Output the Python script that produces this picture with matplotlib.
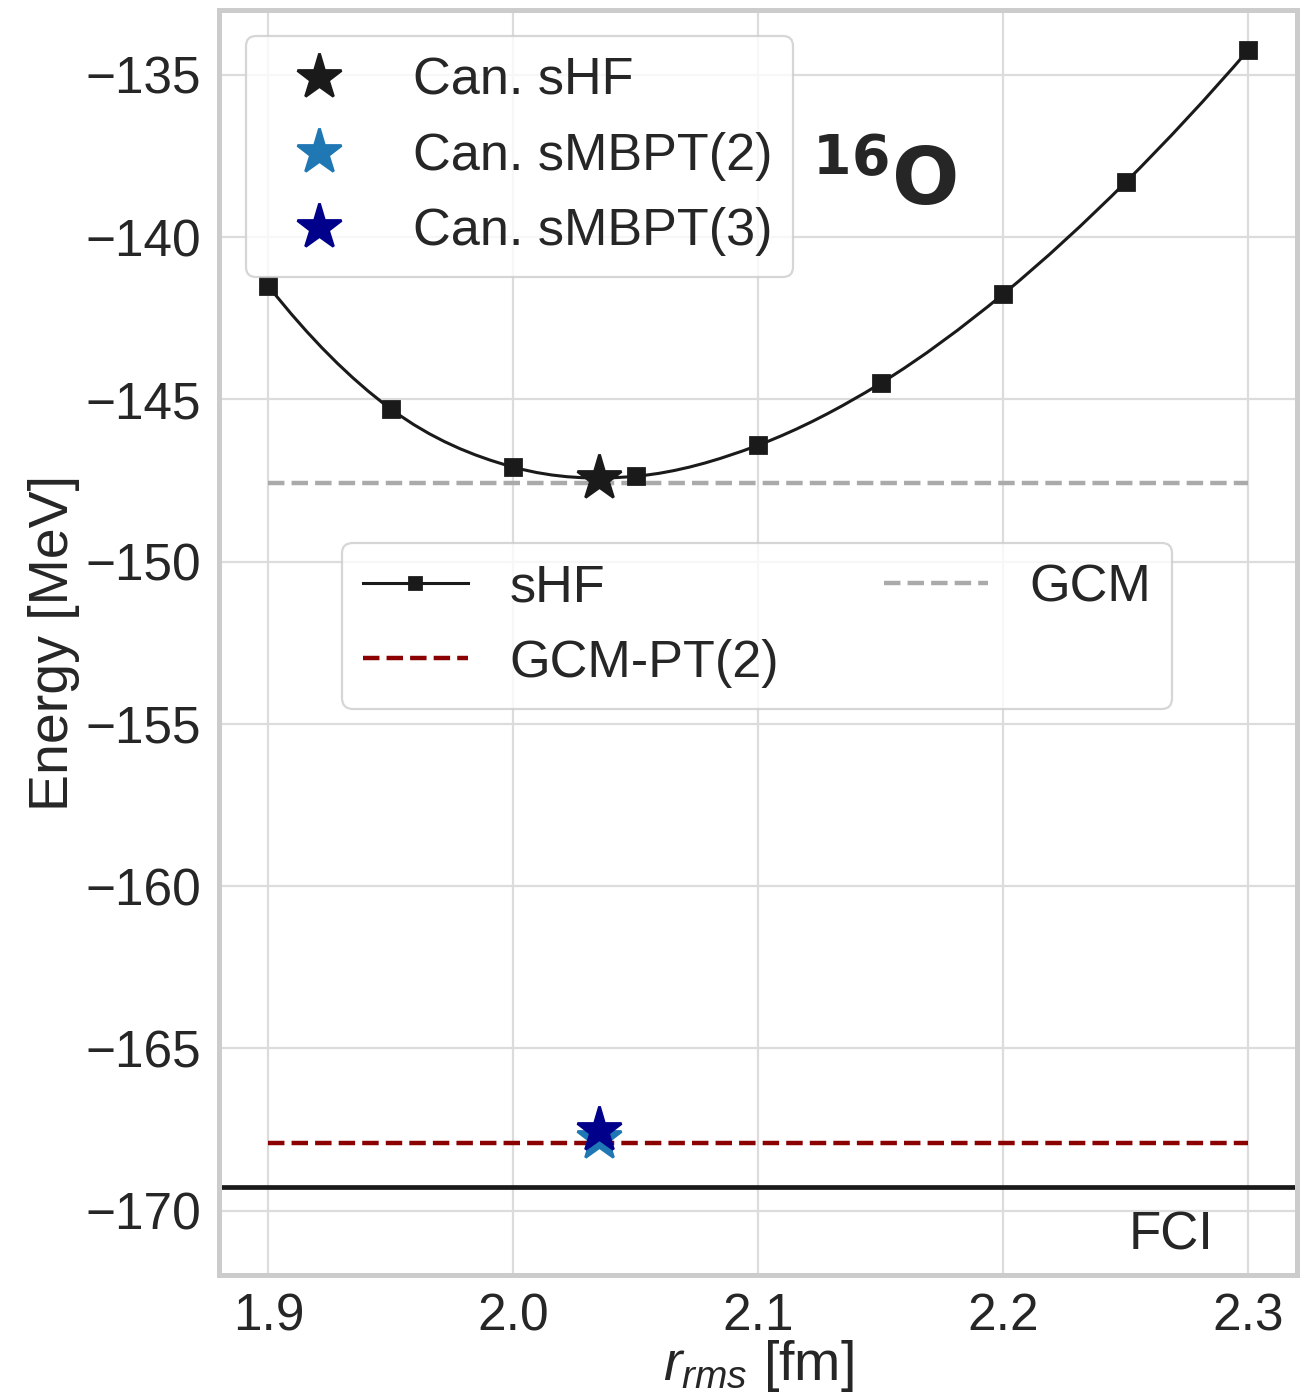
import numpy as np
import matplotlib
matplotlib.use("Agg")
import matplotlib.pyplot as plt
from matplotlib.path import Path
from matplotlib.patches import PathPatch
from matplotlib.lines import Line2D

# ---- data -------------------------------------------------------------
r_rms = [1.90, 1.95, 2.00, 2.05, 2.10, 2.15, 2.20, 2.25, 2.30]
e_shf = [-141.51, -145.30, -147.09, -147.37, -146.41, -144.50, -141.75, -138.30, -134.23]

r_can = 2.035
e_can_shf = -147.42
e_can_mbpt2 = -167.75
e_can_mbpt3 = -167.52

e_gcm = -147.58
e_gcm_pt2 = -167.92
e_fci = -169.26

x_ticks = [1.9, 2.0, 2.1, 2.2, 2.3]
y_ticks = [-135, -140, -145, -150, -155, -160, -165, -170]

# ---- style ------------------------------------------------------------
text_col = "#262626"
plt.rcParams.update({
    "font.family": ["Liberation Sans", "DejaVu Sans"],
    "mathtext.fontset": "custom",
    "mathtext.rm": "Liberation Sans",
    "mathtext.it": "Liberation Sans:italic",
    "mathtext.bf": "DejaVu Sans:bold",
    "text.color": text_col,
    "axes.labelcolor": text_col,
    "xtick.color": text_col,
    "ytick.color": text_col,
})

fig = plt.figure(figsize=(13.07 / 2, 13.99 / 2), dpi=200)
ax = fig.add_axes([0.1679, 0.0883, 0.9927 - 0.1679, 0.9929 - 0.0883])

ax.set_facecolor("white")
ax.grid(True, color="#dcdcdc", lw=0.8, zorder=0)
ax.set_axisbelow(True)
for s in ax.spines.values():
    s.set_color("#cccccc")
    s.set_linewidth(1.8)

# smooth sHF curve: cubic Bezier segments through the computed points
pts = np.column_stack([r_rms, e_shf])
n = len(pts)
tang = np.empty_like(pts)
tang[1:-1] = (pts[2:] - pts[:-2]) / 2.0
tang[0] = (-3 * pts[0] + 4 * pts[1] - pts[2]) / 2.0
tang[-1] = (3 * pts[-1] - 4 * pts[-2] + pts[-3]) / 2.0
verts = [tuple(pts[0])]
codes = [Path.MOVETO]
for i in range(n - 1):
    verts += [tuple(pts[i] + tang[i] / 3.0),
              tuple(pts[i + 1] - tang[i + 1] / 3.0),
              tuple(pts[i + 1])]
    codes += [Path.CURVE4] * 3
ax.add_patch(PathPatch(Path(verts, codes), facecolor="none",
                       edgecolor="#1a1a1a", lw=1.1, zorder=3))
ax.plot(r_rms, e_shf, ls="none", marker="s", ms=6.0, color="#1a1a1a", zorder=4)

# reference lines
gcm_line, = ax.plot([r_rms[0], r_rms[-1]], [e_gcm, e_gcm], ls="--",
                    color="#aaaaaa", lw=1.6, zorder=2)
pt2_line, = ax.plot([r_rms[0], r_rms[-1]], [e_gcm_pt2, e_gcm_pt2], ls="--",
                    color="#8b0000", lw=1.6, zorder=2)
ax.axhline(e_fci, color="#1a1a1a", lw=1.7, zorder=2)

# canonical points
s1, = ax.plot([r_can], [e_can_shf], ls="none", marker="*", ms=17,
              color="#1a1a1a", zorder=5, label="Can. sHF")
s2, = ax.plot([r_can], [e_can_mbpt2], ls="none", marker="*", ms=17,
              color="#1f77b4", zorder=5, label="Can. sMBPT(2)")
s3, = ax.plot([r_can], [e_can_mbpt3], ls="none", marker="*", ms=17,
              color="#00008b", zorder=6, label="Can. sMBPT(3)")

ax.set_xlim(1.88, 2.32)
ax.set_ylim(-172, -133)
ax.set_xticks(x_ticks)
ax.set_yticks(y_ticks)
ax.tick_params(axis="x", length=0, labelsize=18.5, pad=6)
ax.tick_params(axis="y", length=0, labelsize=18.5, pad=6.5)

ax.set_ylabel("Energy [MeV]", fontsize=20, labelpad=2)
ax.set_xlabel(r"$r_{rms}$ [fm]", fontsize=20, labelpad=-1)

ax.text(2.122, -139.0, r"$\mathbf{^{16}O}$", fontsize=28.5, va="baseline",
        ha="left", color=text_col)
ax.text(2.251, -171.2, "FCI", fontsize=19, va="baseline", ha="left")

leg1 = ax.legend(handles=[s1, s2, s3], loc="upper left", fontsize=18.8,
                 frameon=True, fancybox=True, edgecolor="#cccccc",
                 framealpha=0.8, labelcolor=text_col)
leg1.get_frame().set_linewidth(0.8)
ax.add_artist(leg1)

shf_handle = Line2D([], [], color="#1a1a1a", lw=1.1, marker="s", ms=4.5)
leg2 = ax.legend(handles=[shf_handle, pt2_line, gcm_line],
                 labels=["sHF", "GCM-PT(2)", "GCM"], ncol=2,
                 loc="upper left", bbox_to_anchor=(0.114, 0.579),
                 borderaxespad=0, fontsize=18.8, frameon=True, fancybox=True,
                 edgecolor="#cccccc", framealpha=0.8, labelcolor=text_col)
leg2.get_frame().set_linewidth(0.8)

fig.savefig("out.png", dpi=200)
